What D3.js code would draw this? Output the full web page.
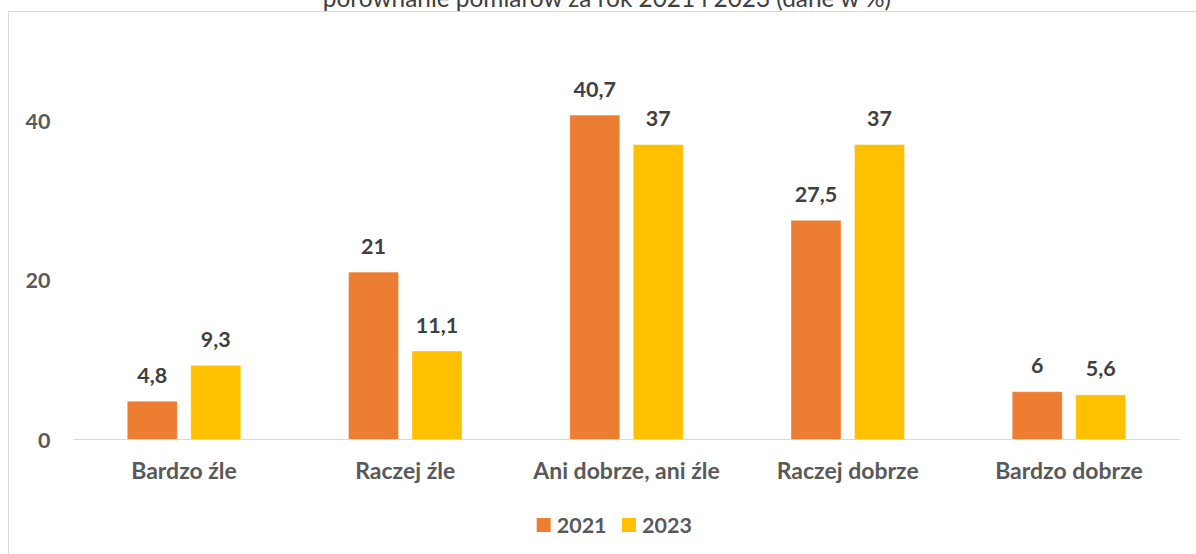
<!DOCTYPE html>
<html lang="pl">
<head>
<meta charset="utf-8">
<script src="https://cdn.jsdelivr.net/npm/d3@7"></script>
<style>
  html, body { margin: 0; padding: 0; background: #fff; }
  svg { display: block; }
</style>
</head>
<body>
<svg id="chart" width="1196" height="554"></svg>
<script>
// Ocena sytuacji – porównanie dwóch pomiarów
const categories = ["Bardzo źle", "Raczej źle", "Ani dobrze, ani źle", "Raczej dobrze", "Bardzo dobrze"];
const seriesNames = ["2021", "2023"];
const values2021 = [4.8, 21, 40.7, 27.5, 6];
const values2023 = [9.3, 11.1, 37, 37, 5.6];
const yTicks = [0, 20, 40];
const colors = ["#ED7D31", "#FFC000"];
const title = "porównanie pomiarów za rok 2021 i 2023 (dane w %)";

const seriesValues = [values2021, values2023];
const rows = categories.map((c, i) => ({
  category: c,
  values: seriesNames.map((s, j) => ({ series: s, value: seriesValues[j][i] }))
}));

const svg = d3.select("#chart");
const W = 1196, H = 554;
const fontFamily = "Lato, 'Open Sans', sans-serif";

// Chart-area frame (runs off the right and bottom edges)
svg.append("rect")
  .attr("x", 8.5).attr("y", 11.5)
  .attr("width", W + 20).attr("height", H + 20)
  .attr("fill", "none").attr("stroke", "#d9d9d9").attr("stroke-width", 1);

// Title, partly above the visible area
svg.append("text")
  .attr("x", 607).attr("y", 7)
  .attr("text-anchor", "middle")
  .attr("font-family", fontFamily)
  .attr("font-size", 24.4)
  .attr("fill", "#404040")
  .text(title);

const plot = { left: 73.4, right: 1179.6, top: 41, bottom: 439.5 };

const x0 = d3.scaleBand()
  .domain(categories)
  .range([plot.left, plot.right])
  .paddingInner(0.487)
  .paddingOuter(0.2435);

const x1 = d3.scaleBand()
  .domain(seriesNames)
  .range([0, x0.bandwidth()])
  .paddingInner(0.2126);

const y = d3.scaleLinear().domain([0, 50]).range([plot.bottom, plot.top]);

// Y axis labels (no axis line, no gridlines)
const yAxis = d3.axisLeft(y).tickValues(yTicks).tickSize(0).tickPadding(0).tickFormat(d3.format("d"));
const yg = svg.append("g").attr("transform", `translate(50.5,0)`).call(yAxis);
yg.select(".domain").remove();
yg.selectAll("text")
  .attr("font-family", fontFamily)
  .attr("font-size", 21.5)
  .attr("font-weight", 700)
  .attr("fill", "#595959")
  .attr("dy", "0.35em");

// Bars
const groups = svg.append("g").selectAll("g")
  .data(rows).join("g")
  .attr("transform", d => `translate(${x0(d.category)},0)`);

groups.selectAll("rect")
  .data(d => d.values).join("rect")
  .attr("x", d => x1(d.series))
  .attr("width", x1.bandwidth())
  .attr("y", d => y(d.value))
  .attr("height", d => y(0) - y(d.value))
  .attr("fill", (d, i) => colors[i])
  .attr("stroke", "#ffffff")
  .attr("stroke-opacity", 0.35)
  .attr("stroke-width", 1);

// Data labels
const fmt = v => String(v).replace(".", ",");
groups.selectAll("text.val")
  .data(d => d.values).join("text")
  .attr("class", "val")
  .attr("x", d => x1(d.series) + x1.bandwidth() / 2)
  .attr("y", d => y(d.value) - 18.5)
  .attr("text-anchor", "middle")
  .attr("font-family", fontFamily)
  .attr("font-size", 21.5)
  .attr("font-weight", 700)
  .attr("fill", "#404040")
  .text(d => fmt(d.value));

// Category axis
const xAxis = d3.axisBottom(x0).tickSize(0).tickPadding(0);
const xg = svg.append("g").attr("transform", `translate(0,${plot.bottom})`).call(xAxis);
xg.select(".domain")
  .attr("stroke", "#d9d9d9")
  .attr("stroke-width", 1.2)
  .attr("d", `M${plot.left},0H${plot.right}`);
xg.selectAll("text")
  .attr("font-family", fontFamily)
  .attr("font-size", 23)
  .attr("font-weight", 700)
  .attr("fill", "#595959")
  .attr("dy", 0)
  .attr("y", 39);

// Legend
const legend = svg.append("g").attr("transform", "translate(536.7,518)");
const legendItems = legend.selectAll("g")
  .data(seriesNames).join("g")
  .attr("transform", (d, i) => `translate(${i * 85.3},0)`);
legendItems.append("rect")
  .attr("width", 14).attr("height", 14)
  .attr("fill", (d, i) => colors[i]);
legendItems.append("text")
  .attr("x", 20).attr("y", 7).attr("dy", "0.36em")
  .attr("font-family", fontFamily)
  .attr("font-size", 21.5)
  .attr("font-weight", 700)
  .attr("fill", "#595959")
  .text(d => d);
</script>
</body>
</html>
